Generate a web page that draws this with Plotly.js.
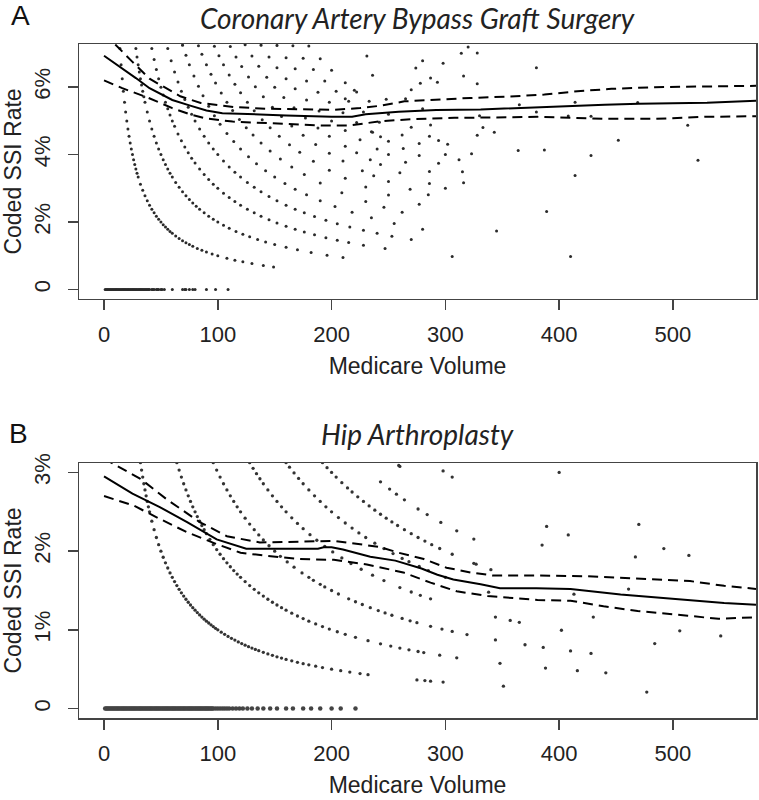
<!DOCTYPE html>
<html>
<head>
<meta charset="utf-8">
<script src="https://cdn.plot.ly/plotly-3.0.1.min.js"></script>
<style>html,body{margin:0;padding:0;background:#fff;}#chart{width:759px;height:800px;}</style>
</head>
<body>
<div id="chart"></div>
<script>
// ---------- Panel A: Coronary Artery Bypass Graft Surgery (rates in %) ----------
const cabgK1Vol = [14,15,16,17,18,19,20,21,22,23,24,25,26,27,28,29,30,32,34,36,38,40,42,44,46,48,50,52,54,56,58,60,63,66,69,72,75,78,82,86,90,95,100,108,115,122,130,140,149];
const cabgK1Rate = [7.143,6.667,6.25,5.882,5.556,5.263,5.0,4.762,4.545,4.348,4.167,4.0,3.846,3.704,3.571,3.448,3.333,3.125,2.941,2.778,2.632,2.5,2.381,2.273,2.174,2.083,2.0,1.923,1.852,1.786,1.724,1.667,1.587,1.515,1.449,1.389,1.333,1.282,1.220,1.163,1.111,1.053,1.0,0.926,0.870,0.820,0.769,0.714,0.671];
const cabgK2Vol = [28,29,30,31,32,33,34,35,36,38,40,42,44,46,48,50,52,54,56,58,60,63,66,69,72,75,78,81,84,88,92,96,100,105,110,116,122,128,135,142,150,160,170,182,196,210];
const cabgK2Rate = [7.143,6.897,6.667,6.452,6.25,6.061,5.882,5.714,5.556,5.263,5.0,4.762,4.545,4.348,4.167,4.0,3.846,3.704,3.571,3.448,3.333,3.175,3.030,2.899,2.778,2.667,2.564,2.469,2.381,2.273,2.174,2.083,2.0,1.905,1.818,1.724,1.639,1.563,1.481,1.408,1.333,1.25,1.176,1.099,1.020,0.952];
const cabgK3Vol = [42,44,46,48,50,52,54,56,58,60,62,65,68,71,74,77,80,84,88,92,96,100,105,110,115,120,126,132,138,145,152,160,168,176,185,195,205,215,228,247,306];
const cabgK3Rate = [7.143,6.818,6.522,6.25,6.0,5.769,5.556,5.357,5.172,5.0,4.839,4.615,4.412,4.225,4.054,3.896,3.75,3.571,3.409,3.261,3.125,3.0,2.857,2.727,2.609,2.5,2.381,2.273,2.174,2.069,1.974,1.875,1.786,1.705,1.622,1.538,1.463,1.395,1.316,1.215,0.980];
const cabgK4Vol = [56,59,62,65,68,71,74,77,80,84,88,92,96,100,105,110,115,120,126,132,138,145,152,160,168,176,185,195,205,216,228,240,253,270,410];
const cabgK4Rate = [7.143,6.780,6.452,6.154,5.882,5.634,5.405,5.195,5.0,4.762,4.545,4.348,4.167,4.0,3.810,3.636,3.478,3.333,3.175,3.030,2.899,2.759,2.632,2.5,2.381,2.273,2.162,2.051,1.951,1.852,1.754,1.667,1.581,1.481,0.976];
const cabgK5Vol = [69,72,75,79,83,87,92,97,102,108,114,120,127,134,142,150,159,168,178,190,203,218,235,255,280];
const cabgK5Rate = [7.246,6.944,6.667,6.329,6.024,5.747,5.435,5.155,4.902,4.630,4.386,4.167,3.937,3.731,3.521,3.333,3.145,2.976,2.809,2.632,2.463,2.294,2.128,1.961,1.786];
const cabgK6Vol = [83,86,90,94,98,103,108,113,119,125,131,138,146,155,165,176,190,209,230,246,262];
const cabgK6Rate = [7.229,6.977,6.667,6.383,6.122,5.825,5.556,5.310,5.042,4.8,4.580,4.348,4.110,3.871,3.636,3.409,3.158,2.871,2.609,2.439,2.290];
const cabgK7Vol = [97,101,105,110,115,120,126,132,139,146,154,163,172,184,198,212,230,250,277];
const cabgK7Rate = [7.216,6.931,6.667,6.364,6.087,5.833,5.556,5.303,5.036,4.795,4.545,4.294,4.070,3.804,3.535,3.302,3.043,2.8,2.527];
const cabgK8Vol = [111,116,121,127,133,140,148,156,165,175,186,198,210,227,237,250,269,285];
const cabgK8Rate = [7.207,6.897,6.612,6.299,6.015,5.714,5.405,5.128,4.848,4.571,4.301,4.040,3.810,3.524,3.376,3.2,2.974,2.807];
const cabgK9Vol = [124,130,136,143,150,158,167,177,188,198,212,222,234,243,260,286,300];
const cabgK9Rate = [7.258,6.923,6.618,6.294,6.0,5.696,5.389,5.085,4.787,4.545,4.245,4.054,3.846,3.704,3.462,3.147,3.0];
const cabgK10Vol = [138,145,152,160,168,178,189,200,212,225,240,250,265,286,316];
const cabgK10Rate = [7.246,6.897,6.579,6.25,5.952,5.618,5.291,5.0,4.717,4.444,4.167,4.0,3.774,3.497,3.165];
const cabgK11Vol = [152,160,168,178,188,198,210,222,235,250,263,277,294,315];
const cabgK11Rate = [7.237,6.875,6.548,6.180,5.851,5.556,5.238,4.955,4.681,4.4,4.183,3.971,3.741,3.492];
const cabgK12Vol = [166,175,184,194,204,215,228,242,262,277,300,312];
const cabgK12Rate = [7.229,6.857,6.522,6.186,5.882,5.581,5.263,4.959,4.580,4.332,4.0,3.846];
const cabgK13Vol = [180,190,200,212,220,233,250,270,286,302,323];
const cabgK13Rate = [7.222,6.842,6.5,6.132,5.909,5.579,5.2,4.815,4.545,4.305,4.025];
const cabgOtherVol = [231,248,265,274,280,280,278,287,270,293,298,314,320,328,316,328,380,365,380,414,469,330,408,428,287,333,343,513,328,364,387,428,452,522,414,389,345,294,243,236,212,236,222];
const cabgOtherRate = [6.926,5.645,5.660,6.569,6.786,5.357,6.115,6.272,5.926,6.143,6.711,7.006,7.188,7.012,6.329,6.098,6.579,5.479,5.263,5.556,5.544,5.152,5.147,5.140,4.878,4.805,4.665,4.873,4.573,4.121,4.134,3.972,4.425,3.831,3.382,2.314,1.739,4.422,4.527,4.661,5.660,6.356,5.856];
const cabgZeroVol = [1,2,3,4,5,6,7,8,9,10,11,12,13,14,15,16,17,18,19,20,21,22,23,24,25,26,27,28,29,30,31,32,33,34,35,36,37,38,39,40,42,43,44,46,47,48,50,51,53,60,69,71,72,75,78,80,90,98,109];

const cabgFitVol = [0,10,20,28,40,51,60,75,90,104,120,137,160,185,200,218,230,259,292,331,360,400,440,470,500,530,573];
const cabgFit = [6.93,6.70,6.47,6.27,5.97,5.78,5.62,5.46,5.31,5.23,5.20,5.19,5.16,5.13,5.12,5.12,5.20,5.27,5.32,5.34,5.38,5.44,5.48,5.51,5.52,5.54,5.60];
const cabgUpperVol = [0,12,25,40,55,67,85,100,114,143,170,202,225,243,264,290,322,355,387,416,446,484,530,573];
const cabgUpper = [7.6,7.18,6.75,6.25,5.95,5.73,5.53,5.46,5.41,5.36,5.34,5.33,5.38,5.45,5.58,5.63,5.68,5.72,5.78,5.88,5.95,6.0,6.02,6.04];
const cabgLowerVol = [0,16,37,60,75,90,113,158,193,215,231,243,270,308,340,381,410,440,484,528,573];
const cabgLower = [6.20,5.97,5.71,5.38,5.20,5.07,4.98,4.92,4.86,4.86,4.94,4.99,5.05,5.09,5.10,5.12,5.09,5.06,5.06,5.12,5.14];

// ---------- Panel B: Hip Arthroplasty (rates in %) ----------
const hipK1Vol = [32,33,34,35,36,37,38,39,40,42,44,46,48,50,52,54,56,58,60,62,64,66,68,70,72,74,76,78,80,82,84,86,88,90,92,94,96,98,100,103,106,109,112,115,118,121,124,127,130,133,136,140,144,148,152,156,160,165,170,175,180,186,192,200,208,216,225,232,275,282,287,298,351,477];
const hipK1Rate = [3.125,3.030,2.941,2.857,2.778,2.703,2.632,2.564,2.5,2.381,2.273,2.174,2.083,2.0,1.923,1.852,1.786,1.724,1.667,1.613,1.563,1.515,1.471,1.429,1.389,1.351,1.316,1.282,1.25,1.220,1.190,1.163,1.136,1.111,1.087,1.064,1.042,1.020,1.0,0.971,0.943,0.917,0.893,0.870,0.847,0.826,0.806,0.787,0.769,0.752,0.735,0.714,0.694,0.676,0.658,0.641,0.625,0.606,0.588,0.571,0.556,0.538,0.521,0.5,0.481,0.463,0.444,0.431,0.364,0.355,0.348,0.336,0.285,0.210];
const hipK2Vol = [64,66,68,70,72,74,76,78,80,82,84,86,88,90,93,96,99,102,105,108,111,114,117,120,124,128,132,136,140,144,148,152,156,160,165,170,175,180,186,192,198,205,212,221,232,243,252,260,268,276,281,295,310,348,388,416,441];
const hipK2Rate = [3.125,3.030,2.941,2.857,2.778,2.703,2.632,2.564,2.5,2.439,2.381,2.326,2.273,2.222,2.151,2.083,2.020,1.961,1.905,1.852,1.802,1.754,1.709,1.667,1.613,1.563,1.515,1.471,1.429,1.389,1.351,1.316,1.282,1.25,1.212,1.176,1.143,1.111,1.075,1.042,1.010,0.976,0.943,0.905,0.862,0.823,0.794,0.769,0.746,0.725,0.712,0.678,0.645,0.575,0.515,0.481,0.454];
const hipK3Vol = [96,99,102,105,108,111,114,117,120,124,128,132,136,140,145,150,155,161,167,174,180,184,190,194,200,206,215,221,227,234,241,247,253,262,269,275,287,297,306,319,344,370,386,410,428];
const hipK3Rate = [3.125,3.030,2.941,2.857,2.778,2.703,2.632,2.564,2.5,2.419,2.344,2.273,2.206,2.143,2.069,2.0,1.935,1.863,1.796,1.724,1.667,1.630,1.579,1.546,1.5,1.456,1.395,1.357,1.322,1.282,1.245,1.215,1.186,1.145,1.115,1.091,1.045,1.010,0.980,0.940,0.872,0.811,0.777,0.732,0.701];
const hipK4Vol = [128,131,134,137,140,144,148,152,156,160,165,170,175,181,187,194,201,209,217,226,236,246,260,270,278,287,344,357,365,402,484];
const hipK4Rate = [3.125,3.053,2.985,2.920,2.857,2.778,2.703,2.632,2.564,2.5,2.424,2.353,2.286,2.210,2.139,2.062,1.990,1.914,1.843,1.770,1.695,1.626,1.538,1.481,1.439,1.394,1.163,1.120,1.096,0.995,0.826];
const hipK5Vol = [160,163,167,171,175,180,185,190,195,200,206,212,218,224,230,238,246,254,262,268,277,285,300,338,430,506,542];
const hipK5Rate = [3.125,3.067,2.994,2.924,2.857,2.778,2.703,2.632,2.564,2.5,2.427,2.358,2.294,2.232,2.174,2.101,2.033,1.969,1.908,1.866,1.805,1.754,1.667,1.479,1.163,0.988,0.923];
const hipK6Vol = [192,196,200,204,209,214,218,223,228,233,238,243,248,253,258,264,270,276,282,288,295,306,325,340,413];
const hipK6Rate = [3.125,3.061,3.0,2.941,2.871,2.804,2.752,2.691,2.632,2.575,2.521,2.469,2.419,2.372,2.326,2.273,2.222,2.174,2.128,2.083,2.034,1.961,1.846,1.765,1.453];
const hipK7Vol = [243,251,257,264,276,284,296,310,325,461];
const hipK7Rate = [2.881,2.789,2.724,2.652,2.536,2.465,2.365,2.258,2.154,1.518];
const hipOtherVol = [259,298,306,400,389,385,408,470,492,514,467,327,260];
const hipOtherRate = [3.089,3.020,2.941,3.0,2.314,2.078,2.206,2.340,2.033,1.946,1.927,1.835,3.077];
const hipZeroVol = [1,2,3,4,5,6,7,8,9,10,11,12,13,14,15,16,17,18,19,20,21,22,23,24,25,26,27,28,29,30,31,32,33,34,35,36,37,38,39,40,41,42,43,44,45,46,47,48,49,50,51,52,53,54,55,56,57,58,59,60,61,62,63,64,65,66,67,68,69,70,71,72,73,74,75,76,77,78,79,80,81,82,83,84,85,86,87,88,89,90,91,92,93,94,95,96,98,100,102,104,106,108,110,113,116,119,122,126,130,135,140,146,152,160,166,175,182,190,200,208,221];

const hipFitVol = [0,25,49,73,99,125,143,165,188,193,200,210,221,234,256,279,293,307,331,348,380,410,454,498,545,573];
const hipFit = [2.95,2.73,2.56,2.37,2.15,2.03,2.03,2.03,2.03,2.05,2.05,2.02,1.98,1.93,1.88,1.78,1.70,1.64,1.58,1.53,1.53,1.52,1.45,1.40,1.34,1.32];
const hipUpperVol = [0,8,32,55,84,108,137,172,202,229,243,259,281,301,322,342,381,425,469,515,545,573];
const hipUpper = [3.18,3.11,2.92,2.66,2.37,2.19,2.11,2.12,2.13,2.08,2.05,1.98,1.90,1.79,1.73,1.69,1.69,1.68,1.65,1.62,1.56,1.52];
const hipLowerVol = [0,26,49,73,99,120,143,172,202,231,263,287,310,337,381,410,439,469,513,540,573];
const hipLower = [2.70,2.58,2.41,2.24,2.09,1.98,1.94,1.90,1.89,1.83,1.73,1.60,1.49,1.43,1.38,1.37,1.30,1.24,1.18,1.14,1.16];

const xTickVals = [0,100,200,300,400,500];
const cabgTickVals = [0,2,4,6];
const cabgTickText = ['0','2%','4%','6%'];
const hipTickVals = [0,1,2,3];
const hipTickText = ['0','1%','2%','3%'];

// ---------- build ----------
const cabgVol = [].concat(cabgK1Vol,cabgK2Vol,cabgK3Vol,cabgK4Vol,cabgK5Vol,cabgK6Vol,cabgK7Vol,cabgK8Vol,cabgK9Vol,cabgK10Vol,cabgK11Vol,cabgK12Vol,cabgK13Vol,cabgOtherVol);
const cabgRate = [].concat(cabgK1Rate,cabgK2Rate,cabgK3Rate,cabgK4Rate,cabgK5Rate,cabgK6Rate,cabgK7Rate,cabgK8Rate,cabgK9Rate,cabgK10Rate,cabgK11Rate,cabgK12Rate,cabgK13Rate,cabgOtherRate);
const hipVol = [].concat(hipK1Vol,hipK2Vol,hipK3Vol,hipK4Vol,hipK5Vol,hipK6Vol,hipK7Vol,hipOtherVol);
const hipRate = [].concat(hipK1Rate,hipK2Rate,hipK3Rate,hipK4Rate,hipK5Rate,hipK6Rate,hipK7Rate,hipOtherRate);

const dotColor = '#2a2a2a';
const lineStyle = {color:'#000', width:2};
const dashStyle = {color:'#000', width:2, dash:'10px,6px'};
const FONT = 'Liberation Sans, Arial, sans-serif';

const traces = [
  {x:cabgVol, y:cabgRate, type:'scatter', mode:'markers', marker:{size:3, color:dotColor}, xaxis:'x', yaxis:'y'},
  {x:cabgZeroVol, y:cabgZeroVol.map(()=>0), type:'scatter', mode:'markers', marker:{size:3, color:dotColor}, xaxis:'x', yaxis:'y'},
  {x:cabgFitVol, y:cabgFit, type:'scatter', mode:'lines', line:lineStyle, xaxis:'x', yaxis:'y'},
  {x:cabgUpperVol, y:cabgUpper, type:'scatter', mode:'lines', line:dashStyle, xaxis:'x', yaxis:'y'},
  {x:cabgLowerVol, y:cabgLower, type:'scatter', mode:'lines', line:dashStyle, xaxis:'x', yaxis:'y'},
  {x:hipVol, y:hipRate, type:'scatter', mode:'markers', marker:{size:3.3, color:'#333'}, xaxis:'x2', yaxis:'y2'},
  {x:hipZeroVol, y:hipZeroVol.map(()=>0), type:'scatter', mode:'markers', marker:{size:4.5, color:'#444'}, xaxis:'x2', yaxis:'y2'},
  {x:hipFitVol, y:hipFit, type:'scatter', mode:'lines', line:lineStyle, xaxis:'x2', yaxis:'y2'},
  {x:hipUpperVol, y:hipUpper, type:'scatter', mode:'lines', line:dashStyle, xaxis:'x2', yaxis:'y2'},
  {x:hipLowerVol, y:hipLower, type:'scatter', mode:'lines', line:dashStyle, xaxis:'x2', yaxis:'y2'}
];

function xAx(anchor){
  return {domain:[0,1], anchor:anchor, range:[-22,573], tickvals:xTickVals, ticks:'outside', ticklen:10, tickwidth:1.5,
    tickcolor:'#444', showline:true, mirror:true, linecolor:'#444', linewidth:1.5, showgrid:false, zeroline:false,
    tickfont:{family:FONT, size:22, color:'#222'}, ticklabelstandoff:5,
    title:{text:'Medicare Volume', font:{family:FONT, size:23, color:'#222'}, standoff:12}};
}
function yAx(anchor, dom, range, vals, text){
  return {domain:dom, anchor:anchor, range:range, tickvals:vals, ticktext:text, tickangle:-90, ticks:'outside', ticklen:10, tickwidth:1.5,
    tickcolor:'#444', showline:true, mirror:true, linecolor:'#444', linewidth:1.5, showgrid:false, zeroline:false,
    tickfont:{family:FONT, size:22, color:'#222'}, ticklabelstandoff:9,
    title:{text:'Coded SSI Rate', font:{family:FONT, size:23, color:'#222'}, standoff:10}};
}

const layout = {
  width:759, height:800, showlegend:false,
  margin:{l:79, r:3, t:44, b:82},
  paper_bgcolor:'#fff', plot_bgcolor:'#fff',
  xaxis: xAx('y'),
  yaxis: yAx('x', [0.6217,1], [-0.28,7.28], cabgTickVals, cabgTickText),
  xaxis2: xAx('y2'),
  yaxis2: yAx('x2', [0,0.3783], [-0.12,3.12], hipTickVals, hipTickText),
  annotations:[
    {text:'A', xref:'paper', yref:'paper', x:-0.087, y:1.0423, showarrow:false, xanchor:'center', yanchor:'middle', font:{family:FONT, size:28, color:'#111'}},
    {text:'<i>Coronary Artery Bypass Graft Surgery</i>', xref:'paper', yref:'paper', x:0.5, y:1.0386, showarrow:false, xanchor:'center', yanchor:'middle', font:{family:'Lato, Open Sans, sans-serif', size:28, color:'#222'}},
    {text:'B', xref:'paper', yref:'paper', x:-0.09, y:0.4214, showarrow:false, xanchor:'center', yanchor:'middle', font:{family:FONT, size:28, color:'#111'}},
    {text:'<i>Hip Arthroplasty</i>', xref:'paper', yref:'paper', x:0.5, y:0.4214, showarrow:false, xanchor:'center', yanchor:'middle', font:{family:'Lato, Open Sans, sans-serif', size:28, color:'#222'}}
  ]
};

Plotly.newPlot('chart', traces, layout, {displayModeBar:false, staticPlot:true});
</script>
</body>
</html>
